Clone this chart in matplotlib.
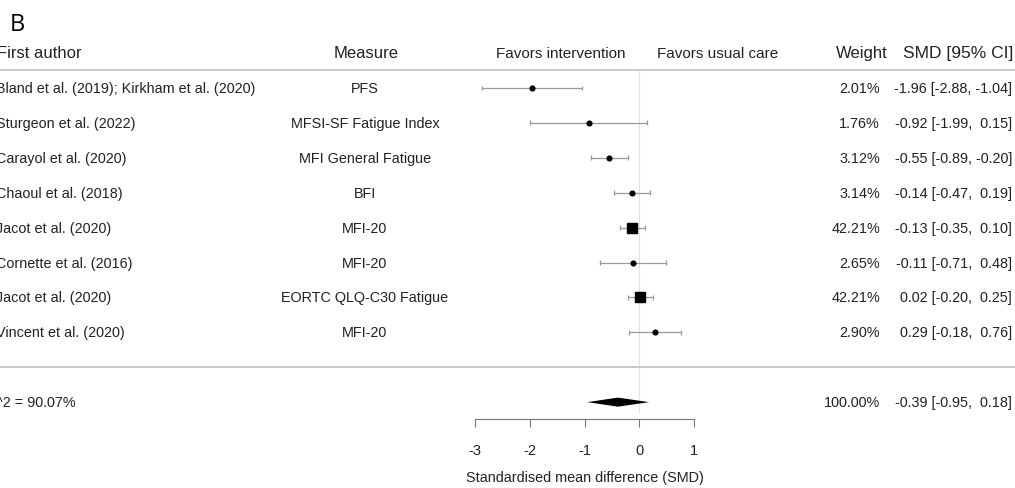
import numpy as np
import matplotlib.pyplot as plt

plt.rcParams['font.family'] = ['Liberation Sans', 'DejaVu Sans']

# study data
authors = ["Bland et al. (2019); Kirkham et al. (2020)", "Sturgeon et al. (2022)",
           "Carayol et al. (2020)", "Chaoul et al. (2018)", "Jacot et al. (2020)",
           "Cornette et al. (2016)", "Jacot et al. (2020)", "Vincent et al. (2020)"]
measures = ["PFS", "MFSI-SF Fatigue Index", "MFI General Fatigue", "BFI", "MFI-20",
            "MFI-20", "EORTC QLQ-C30 Fatigue", "MFI-20"]
smd = [-1.96, -0.92, -0.55, -0.14, -0.13, -0.11, 0.02, 0.29]
lo = [-2.88, -1.99, -0.89, -0.47, -0.35, -0.71, -0.20, -0.18]
hi = [-1.04, 0.15, -0.20, 0.19, 0.10, 0.48, 0.25, 0.76]
weights = [2.01, 1.76, 3.12, 3.14, 42.21, 2.65, 42.21, 2.90]

pooled = -0.39
pooled_lo = -0.95
pooled_hi = 0.18
i2_text = "I^2 = 90.07%"
ticks = [-3, -2, -1, 0, 1]

fig = plt.figure(figsize=(10.15, 4.89), dpi=100)
ax = fig.add_axes([0, 0, 1, 1])
ax.set_xlim(-11.676, 6.863)
ax.set_ylim(11.46, -2.55)

for s in ['top', 'left', 'right']:
    ax.spines[s].set_visible(False)
ax.set_yticks([])
ax.spines['bottom'].set_position(('data', 9.48))
ax.spines['bottom'].set_bounds(ticks[0], ticks[-1])
ax.spines['bottom'].set_color('#777777')
ax.set_xticks(ticks)
ax.set_xticklabels([str(t) for t in ticks])
ax.tick_params(axis='x', direction='out', length=6, width=0.8, color='#777777',
               pad=11, labelsize=10.5, labelcolor='#222222')
ax.patch.set_alpha(0)

rows = np.arange(len(smd))
txt = '#222222'
fs = 10.4
hfs = 12
T = ax.get_yaxis_transform()

# zero line
ax.vlines(0, -0.52, 9.3, color='#e2e2e2', lw=0.8, zorder=0)

# CIs and points
for y, m, l, h, w in zip(rows, smd, lo, hi, weights):
    ax.hlines(y, l, h, color='#999999', lw=0.9, zorder=1)
    ax.vlines([l, h], y - 0.07, y + 0.07, color='#999999', lw=0.9, zorder=1)
    if w > 10:
        ax.plot(m, y, 's', color='black', ms=7.5, zorder=3)
    else:
        ax.plot(m, y, 'o', color='black', ms=3.4, zorder=3)

# diamond
ax.fill([pooled_lo, pooled, pooled_hi, pooled], [9, 8.87, 9, 9.13],
        color='black', lw=0, zorder=3)

# separator lines
ax.axhline(-0.52, color='#c4c4c4', lw=1.3)
ax.axhline(7.99, color='#c4c4c4', lw=1.3)

# headers
ax.text(-0.003, -1.03, "First author", transform=T, ha='left', va='center', fontsize=hfs, color=txt)
ax.text(0.3606, -1.03, "Measure", transform=T, ha='center', va='center', fontsize=hfs, color=txt)
ax.text(-1.44, -1.0, "Favors intervention", ha='center', va='center', fontsize=11, color=txt)
ax.text(1.44, -1.0, "Favors usual care", ha='center', va='center', fontsize=11, color=txt)
ax.text(0.875, -1.03, "Weight", transform=T, ha='right', va='center', fontsize=hfs, color=txt)
ax.text(0.998, -1.03, "SMD [95% CI]", transform=T, ha='right', va='center', fontsize=12.5, color=txt)

# table rows
for y, a, me, m, l, h, w in zip(rows, authors, measures, smd, lo, hi, weights):
    ax.text(-0.004, y, a, transform=T, ha='left', va='center', fontsize=fs, color=txt)
    ax.text(0.3596, y, me, transform=T, ha='center', va='center', fontsize=fs, color=txt)
    ax.text(0.867, y, f"{w:.2f}%", transform=T, ha='right', va='center', fontsize=fs, color=txt)
    ax.text(0.997, y, f"{m:.2f} [{l:.2f}, {h:5.2f}]", transform=T, ha='right',
            va='center', fontsize=fs, color=txt)

# summary row
ax.text(-0.0075, 9, i2_text, transform=T, ha='left', va='center', fontsize=fs, color=txt)
ax.text(0.867, 9, "100.00%", transform=T, ha='right', va='center', fontsize=fs, color=txt)
ax.text(0.997, 9, f"{pooled:.2f} [{pooled_lo:.2f}, {pooled_hi:5.2f}]", transform=T,
        ha='right', va='center', fontsize=fs, color=txt)

ax.text(-1, 11.15, "Standardised mean difference (SMD)", ha='center', va='center',
        fontsize=fs, color=txt)

fig.text(0.0099, 0.948, "B", ha='left', va='center', fontsize=17,
         family=['Open Sans', 'DejaVu Sans'], color='black')

fig.savefig("out.png", dpi=100)
